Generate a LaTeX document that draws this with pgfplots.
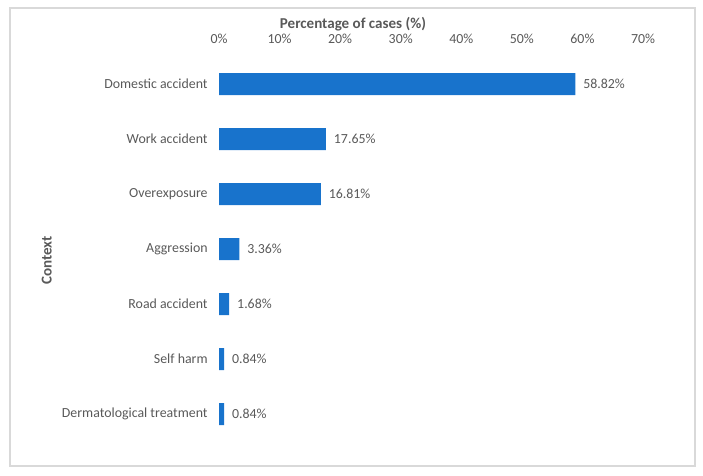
\documentclass[border=0pt]{standalone}
\usepackage{pgfplots}
\pgfplotsset{compat=1.18}
\usepackage{pgfplotstable}
\usepackage{fontspec}
\setmainfont{Carlito}
\definecolor{barblue}{RGB}{24,115,204}
\definecolor{txtgray}{RGB}{89,89,89}
\definecolor{framegray}{RGB}{217,217,217}

% context, position (bottom = 1), share of cases in percent
\pgfplotstableread{
pos value
7 58.82
6 17.65
5 16.81
4 3.36
3 1.68
2 0.84
1 0.84
}\contextdata

\begin{document}
\begin{tikzpicture}
\useasboundingbox (0pt,0pt) rectangle (527.25pt,356.25pt);
\draw[framegray,line width=0.9pt] (7.5pt,6.75pt) rectangle (521.25pt,350.25pt);
\begin{axis}[
  at={(164.25pt,25.125pt)}, anchor=south west,
  width=318pt, height=288.75pt, scale only axis,
  xmin=0, xmax=70, ymin=0.5, ymax=7.5,
  xbar, bar width=16.5pt,
  axis line style={draw=none},
  major tick length=0pt,
  xtick={0,10,...,70},
  xticklabel pos=top,
  xticklabel={\pgfmathprintnumber{\tick}\%},
  ytick={1,...,7},
  yticklabels={Dermatological treatment,Self harm,Road accident,Aggression,Overexposure,Work accident,Domestic accident},
  /pgf/number format/assume math mode=true,
  tick label style={font=\fontsize{10.4}{12}\selectfont, text=txtgray},
  xticklabel style={yshift=6pt},
  yticklabel style={xshift=-5pt},
  xlabel={Percentage of cases (\%)},
  xlabel style={font=\fontsize{11.3}{13}\selectfont\bfseries, text=txtgray,
    at={(axis description cs:0.316,1.084)}, anchor=center},
  ylabel={Context},
  ylabel style={font=\fontsize{11.3}{13}\selectfont\bfseries, text=txtgray,
    at={(axis description cs:-0.406,0.47)}, anchor=center},
  nodes near coords={\pgfmathprintnumber[fixed,precision=2,fixed zerofill]{\pgfplotspointmeta}\%},
  nodes near coords style={font=\fontsize{10.4}{12}\selectfont, text=txtgray, anchor=west, xshift=2.5pt},
  point meta=x,
]
\addplot[fill=barblue, draw=none] table[x=value, y=pos] {\contextdata};
\end{axis}
\end{tikzpicture}
\end{document}
